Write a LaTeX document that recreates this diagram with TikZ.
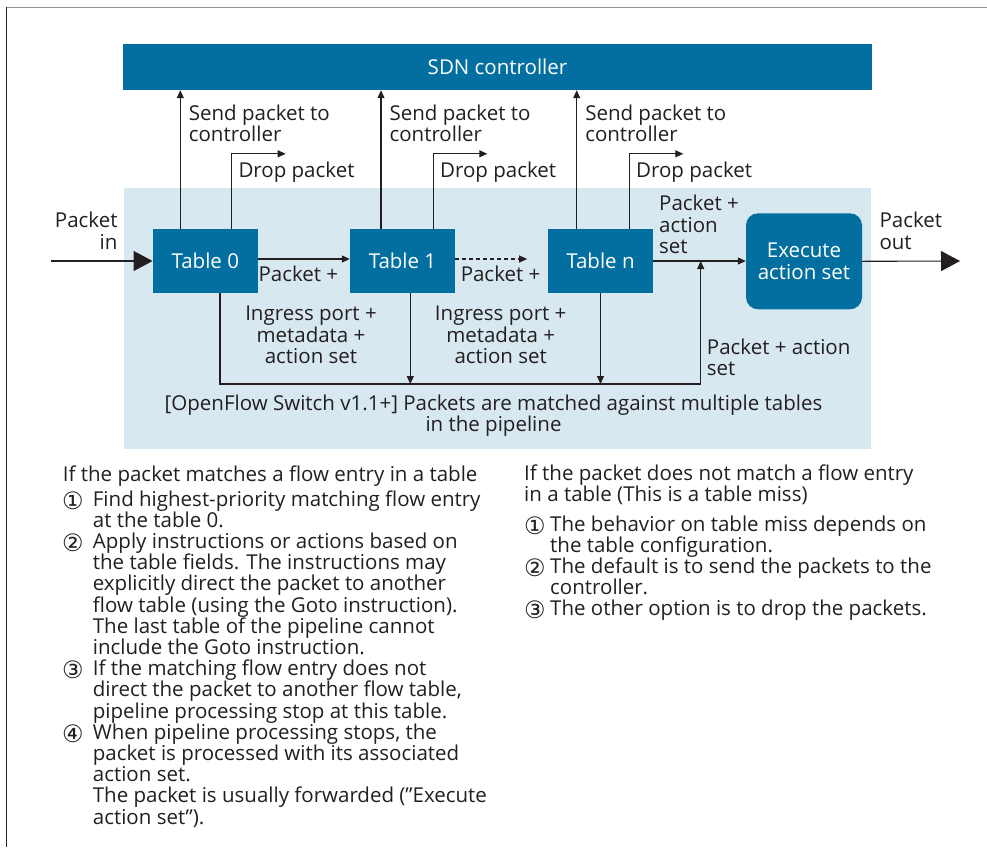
\documentclass[tikz,border=0pt]{standalone}
\usepackage{fontspec}
\setmainfont{Open Sans}
\newfontfamily\circfont{DejaVu Sans}
\usetikzlibrary{arrows.meta,positioning}
\definecolor{sdnblue}{HTML}{036FA0}
\definecolor{swbg}{HTML}{D8E8F1}
\definecolor{ink}{HTML}{231F20}
\newcommand{\cnum}[1]{{\circfont\fontsize{24}{24}\selectfont #1}}

\begin{document}
\begin{tikzpicture}[x=1pt,y=-1pt,>={Triangle[length=8pt,width=7pt]},
  font=\fontsize{20.5}{21.2}\selectfont,text=ink,
  flow/.style={draw=ink,line width=1.1pt,->},
  bigflow/.style={draw=ink,line width=1.1pt,-{Triangle[length=19pt,width=20pt]}},
  tablebox/.style={fill=sdnblue,text=white,minimum width=105pt,minimum height=64pt,inner sep=0pt},
  lbl/.style={inner sep=0pt,align=left},
  num/.style={inner sep=0pt,yshift=-3pt}]
\useasboundingbox (0,0) rectangle (987,847);
%frame
\draw[gray!85,line width=1.5pt] (6,7.3) -- (987,7.3);
\draw[ink,line width=1pt] (6.3,7) -- (6.3,847);

%controller and switch
\node[fill=sdnblue,text=white,minimum width=749pt,minimum height=46pt,inner sep=0pt] (C) at (497.5,67) {SDN controller};
\fill[swbg] (124,188) rectangle (871,448.7);

\node[tablebox] (T0) at (205.3,261) {Table 0};
\node[tablebox] (T1) at (402.5,261) {Table 1};
\node[tablebox] (Tn) at (600.5,261) {Table n};
\node[tablebox,rounded corners=12pt,minimum width=116pt,minimum height=96pt,align=center] (E) at (804,261.3) {Execute\\action set};

%packet in / out
\coordinate (in) at (51,261);
\coordinate (out) at (960,261);
\draw[bigflow] (in) -- (T0.west);
\draw[bigflow] (E.east) -- (out);
\node[lbl,align=right,anchor=base east] (pin) at (117.7,249) {Packet\\in};
\node[lbl,anchor=base west] (pout) at (879.3,249) {Packet\\out};

%send packet to controller
\draw[flow] ([xshift=-25pt]T0.north) -- ([xshift=-25pt]T0.north |- C.south)
  node[lbl,anchor=base west,xshift=8pt,yshift=-51.7pt] (s0) {Send packet to\\controller};
\draw[flow] ([xshift=-21.5pt]T1.north) -- ([xshift=-21.5pt]T1.north |- C.south)
  node[lbl,anchor=base west,xshift=8pt,yshift=-51.7pt] (s1) {Send packet to\\controller};
\draw[flow] ([xshift=-23.8pt]Tn.north) -- ([xshift=-23.8pt]Tn.north |- C.south)
  node[lbl,anchor=base west,xshift=8pt,yshift=-51.7pt] (sn) {Send packet to\\controller};

%drop packet
\draw[flow] ([xshift=26.4pt]T0.north) |- ++(54,-75);
\node[lbl,anchor=base west] (d0) at ([xshift=33pt,yshift=51pt]T0.north) {Drop packet};
\draw[flow] ([xshift=30.8pt]T1.north) |- ++(54,-75);
\node[lbl,anchor=base west] (d1) at ([xshift=37.5pt,yshift=51pt]T1.north) {Drop packet};
\draw[flow] ([xshift=28.8pt]Tn.north) |- ++(54,-75);
\node[lbl,anchor=base west] (dn) at ([xshift=35.5pt,yshift=51pt]Tn.north) {Drop packet};

%goto next table
\draw[flow] ([yshift=2pt]T0.east) -- ([yshift=2pt]T1.west)
  node[lbl,anchor=base west,at start,yshift=-22.7pt] (p0) {Packet +};
\draw[flow,dash pattern=on 4pt off 3pt] ([yshift=2pt]T1.east) -- ([xshift=-20.6pt,yshift=2pt]Tn.west)
  node[lbl,anchor=base west,at start,xshift=5pt,yshift=-22.7pt] (p1) {Packet +};
\draw[flow] (Tn.east) -- (Tn.east -| E.west);
\node[lbl,anchor=base west] (pa) at (659,253.3) {Packet +\\action\\set};

%pipeline stops
\coordinate (bus) at (700.7,384);
\draw[flow] ([xshift=14.7pt]T0.south) |- (bus) -- (bus |- Tn.east);
\draw[flow] ([xshift=7.8pt]T1.south) -- ([xshift=7.8pt]T1.south |- bus);
\draw[flow] (Tn.south) -- (Tn.south |- bus);
\node[lbl,align=center,anchor=base] (i0) at (311,363.3) {Ingress port +\\metadata +\\action set};
\node[lbl,align=center,anchor=base] (i1) at (500.7,363.3) {Ingress port +\\metadata +\\action set};
\node[lbl,anchor=base west] (pas) at (706.7,375.7) {Packet + action\\set};
\node[lbl,align=center,anchor=base] (of) at (493.5,431.7) {[OpenFlow Switch v1.1+] Packets are matched against multiple tables\\in the pipeline};

%table hit
\node[lbl,anchor=base west] (hit) at (62.7,481.7) {If the packet matches a flow entry in a table};
\node[num,anchor=base west] (h1) at (62,506) {\cnum{①}};
\node[lbl,anchor=base west] (ht1) at (92.7,527.2) {Find highest-priority matching flow entry\\at the table 0.};
\node[num,anchor=base west] (h2) at (62,548.4) {\cnum{②}};
\node[lbl,anchor=base west] (ht2) at (92.7,654.4) {Apply instructions or actions based on\\the table fields. The instructions may\\explicitly direct the packet to another\\flow table (using the Goto instruction).\\The last table of the pipeline cannot\\include the Goto instruction.};
\node[num,anchor=base west] (h3) at (62,675.6) {\cnum{③}};
\node[lbl,anchor=base west] (ht3) at (92.7,718) {If the matching flow entry does not\\direct the packet to another flow table,\\pipeline processing stop at this table.};
\node[num,anchor=base west] (h4) at (62,739.2) {\cnum{④}};
\node[lbl,anchor=base west] (ht4) at (92.7,824) {When pipeline processing stops, the\\packet is processed with its associated\\action set.\\The packet is usually forwarded (”Execute\\action set”).};

%table miss
\node[lbl,anchor=base west] (miss) at (524,501.7) {If the packet does not match a flow entry\\in a table (This is a table miss)};
\node[num,anchor=base west] (m1) at (524,531) {\cnum{①}};
\node[lbl,anchor=base west] (mt1) at (550,552.2) {The behavior on table miss depends on\\the table configuration.};
\node[num,anchor=base west] (m2) at (524,573.4) {\cnum{②}};
\node[lbl,anchor=base west] (mt2) at (550,594.6) {The default is to send the packets to the\\controller.};
\node[num,anchor=base west] (m3) at (524,615.8) {\cnum{③}};
\node[lbl,anchor=base west] (mt3) at (550,615.8) {The other option is to drop the packets.};
\end{tikzpicture}
\end{document}
